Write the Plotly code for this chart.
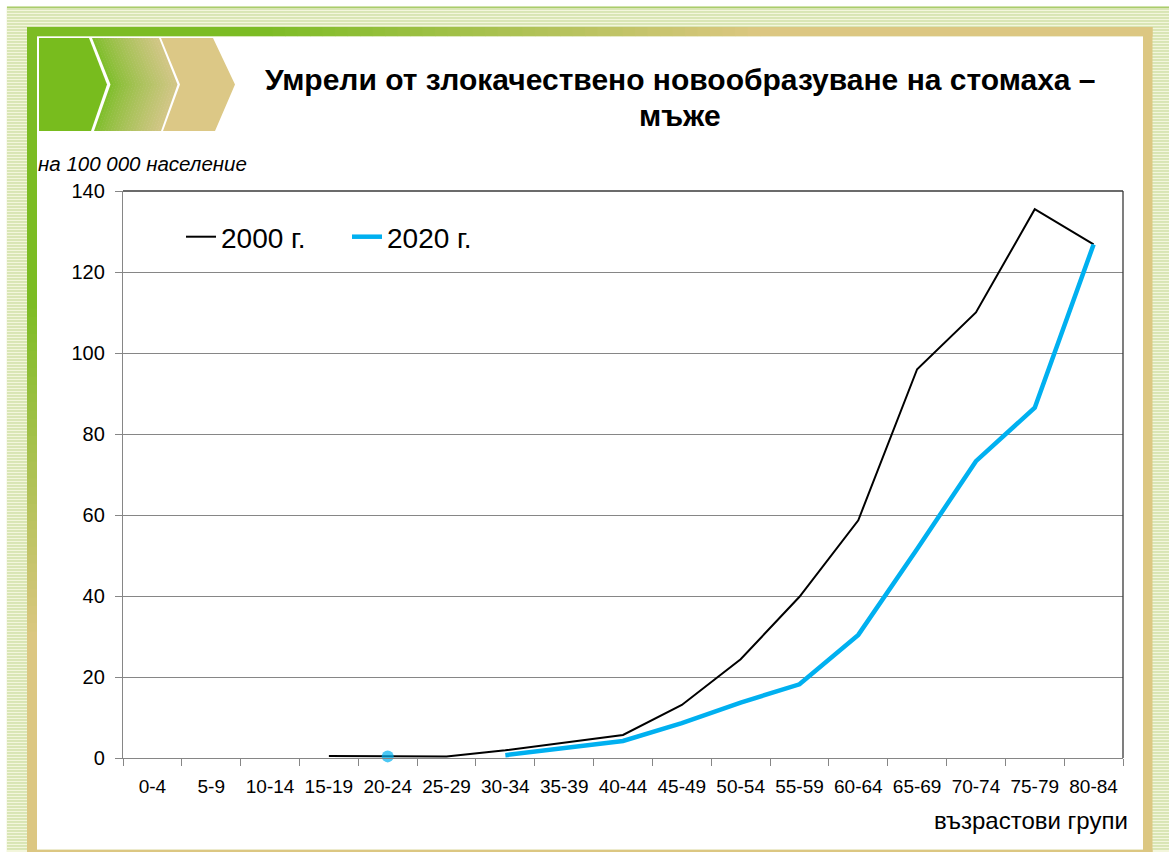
import plotly.graph_objects as go

# ---------------- data ----------------
age_groups = ["0-4", "5-9", "10-14", "15-19", "20-24", "25-29", "30-34", "35-39",
              "40-44", "45-49", "50-54", "55-59", "60-64", "65-69", "70-74",
              "75-79", "80-84"]
rate_2000 = [None, None, None, 0.5, 0.5, 0.4, 1.9, 3.8, 5.7, 13.1, 24.4, 39.8,
             58.7, 96.0, 110.0, 135.5, 126.8]
rate_2020 = [None, None, None, None, 0.4, None, 0.7, 2.4, 4.2, 8.6, 13.7, 18.2,
             30.4, 51.6, 73.3, 86.5, 126.8]
series_names = ["2000 г.", "2020 г."]
y_tick_values = [0, 20, 40, 60, 80, 100, 120, 140]

title_line1 = "Умрели от злокачествено новообразуване на стомаха –"
title_line2 = "мъже"
y_unit_label = "на 100 000 население"
x_axis_label = "възрастови групи"

# ---------------- geometry (pixels) ----------------
W, H = 1169, 852
ML, MR, MT, MB = 123, 46, 191, 94
PW = W - ML - MR
PH = H - MT - MB
FONT = "Liberation Sans, Arial, sans-serif"


def px(x):
    return (x - ML) / PW


def py(y):
    return (H - MB - y) / PH


GREEN = (124, 188, 36)
TAN = (220, 199, 130)


def mix(c1, c2, t):
    t = max(0.0, min(1.0, t))
    return "rgb(%d,%d,%d)" % tuple(round(a + (b - a) * t) for a, b in zip(c1, c2))


shapes = []


def rect(x0, y0, x1, y1, color, layer="below"):
    shapes.append(dict(type="rect", xref="paper", yref="paper",
                       x0=px(x0), x1=px(x1), y0=py(y1), y1=py(y0),
                       fillcolor=color, line=dict(width=0), layer=layer))


def poly(points, color, layer="below"):
    d = "M" + " L".join("%.5f,%.5f" % (px(x), py(y)) for x, y in points) + " Z"
    shapes.append(dict(type="path", xref="paper", yref="paper", path=d,
                       fillcolor=color, line=dict(width=0), layer=layer))


# striped page background
rect(0, 0, W, H, "#f3f6dc")
stripe_path = " ".join("M%.5f,%.5f H%.5f" % (px(7), py(y), px(W)) for y in range(9, H, 3))
shapes.append(dict(type="path", xref="paper", yref="paper", path=stripe_path,
                   line=dict(color="#bfd58e", width=1), layer="below"))
rect(0, 0, W, 6.5, "white")
rect(0, 0, 6.5, H, "white")
rect(7, 6.5, W, 8, "#a9cc6c")

# frame: top border gradient (green -> tan)
rect(27, 27, 260, 36.5, mix(GREEN, TAN, 0))
n = 40
for i in range(n):
    xa = 260 + (760 - 260) * i / n
    xb = 260 + (760 - 260) * (i + 1) / n + 0.6
    rect(xa, 27, xb, 36.5, mix(GREEN, TAN, (i + 0.5) / n))
rect(760, 27, 1152.5, 36.5, mix(GREEN, TAN, 1))
# left border gradient (green top -> tan bottom)
rect(27, 27, 37, 300, mix(GREEN, TAN, 0))
for i in range(n):
    ya = 300 + (640 - 300) * i / n
    yb = 300 + (640 - 300) * (i + 1) / n + 0.6
    rect(27, ya, 37, yb, mix(GREEN, TAN, (i + 0.5) / n))
rect(27, 640, 37, H, mix(GREEN, TAN, 1))
# right and bottom border
rect(1143, 27, 1152.5, H, mix(GREEN, TAN, 1))
rect(27, 849.5, 1152.5, H, mix(GREEN, TAN, 1))
# white panel
rect(37, 36.5, 1143, 849.5, "white")

# chevrons
poly([(39, 38), (89, 38), (107, 84.5), (91, 131), (39, 131)], "rgb(120,188,30)")
m = 24
dx = 66.5
for i in range(m):
    a = 92 + dx * i / m
    b = 92 + dx * (i + 1) / m + 0.5
    poly([(a, 38), (b, 38), (b + 18.5, 84.5), (b + 2, 131), (a + 2, 131), (a + 18.5, 84.5)],
         mix((124, 190, 40), (210, 198, 135), ((i + 0.5) / m) ** 0.8))
poly([(161, 38), (213, 38), (235, 84.5), (215, 131), (163, 131), (180, 84.5)], "rgb(220,200,134)")

# plot frame top / right (dark)
shapes.append(dict(type="line", xref="paper", yref="paper", x0=0, x1=1, y0=1, y1=1,
                   line=dict(color="#3a3a3a", width=1.3), layer="above"))
shapes.append(dict(type="line", xref="paper", yref="paper", x0=1, x1=1, y0=0, y1=1,
                   line=dict(color="#3a3a3a", width=1.3), layer="above"))

# ---------------- traces ----------------
fig = go.Figure()
fig.add_trace(go.Scatter(
    x=age_groups, y=rate_2000, name=series_names[0], mode="lines",
    line=dict(color="black", width=2), connectgaps=False, hoverinfo="skip"))


def isolated_sizes(vals, size):
    out = []
    for i, v in enumerate(vals):
        prev_none = i == 0 or vals[i - 1] is None
        next_none = i == len(vals) - 1 or vals[i + 1] is None
        out.append(size if (v is not None and prev_none and next_none) else 0)
    return out


fig.add_trace(go.Scatter(
    x=age_groups, y=rate_2020, name=series_names[1], mode="lines+markers",
    line=dict(color="#00b0f0", width=4.5), connectgaps=False, cliponaxis=False,
    marker=dict(color="#00b0f0", size=isolated_sizes(rate_2020, 12), line=dict(width=0)),
    hoverinfo="skip"))

annotations = [
    dict(text="<b>%s</b>" % title_line1, xref="paper", yref="paper", x=px(680), y=py(80),
         xanchor="center", yanchor="middle", showarrow=False,
         font=dict(family=FONT, size=30, color="black")),
    dict(text="<b>%s</b>" % title_line2, xref="paper", yref="paper", x=px(680), y=py(115),
         xanchor="center", yanchor="middle", showarrow=False,
         font=dict(family=FONT, size=30, color="black")),
    dict(text="<i>%s</i>" % y_unit_label, xref="paper", yref="paper", x=px(36), y=py(163),
         xanchor="left", yanchor="middle", showarrow=False,
         font=dict(family=FONT, size=20.5, color="black")),
    dict(text=x_axis_label, xref="paper", yref="paper", x=px(1130), y=py(820),
         xanchor="right", yanchor="middle", showarrow=False,
         font=dict(family=FONT, size=24, color="black")),
]

fig.update_layout(
    width=W, height=H,
    margin=dict(l=ML, r=MR, t=MT, b=MB, pad=0),
    paper_bgcolor="white", plot_bgcolor="rgba(0,0,0,0)",
    shapes=shapes, annotations=annotations,
    hovermode=False,
    showlegend=True,
    legend=dict(orientation="h", x=px(181), y=py(237), xanchor="left", yanchor="middle",
                bgcolor="rgba(0,0,0,0)", font=dict(family=FONT, size=28, color="black"),
                itemwidth=30, entrywidth=121, tracegroupgap=0),
    font=dict(family=FONT, color="black"),
)
fig.update_xaxes(
    type="category", categoryorder="array", categoryarray=age_groups,
    range=[-0.5, len(age_groups) - 0.5],
    showgrid=False, showline=True, linecolor="#868686", linewidth=1.3,
    ticks="outside", tickson="boundaries", ticklen=7, tickcolor="#868686", tickwidth=1.3,
    tickfont=dict(family=FONT, size=19, color="black"), tickangle=0,
    ticklabelstandoff=11, zeroline=False,
)
fig.update_yaxes(
    range=[0, 140], tickvals=y_tick_values,
    showgrid=True, gridcolor="#868686", gridwidth=1.3,
    showline=True, linecolor="#868686", linewidth=1.3,
    ticks="outside", ticklen=7, tickcolor="#868686", tickwidth=1.3,
    tickfont=dict(family=FONT, size=20, color="black"),
    ticklabelstandoff=6, zeroline=False,
)

fig.write_html("out.html", config={"displayModeBar": False},
               post_script="document.body.style.margin='0';document.body.style.overflow='hidden';")
